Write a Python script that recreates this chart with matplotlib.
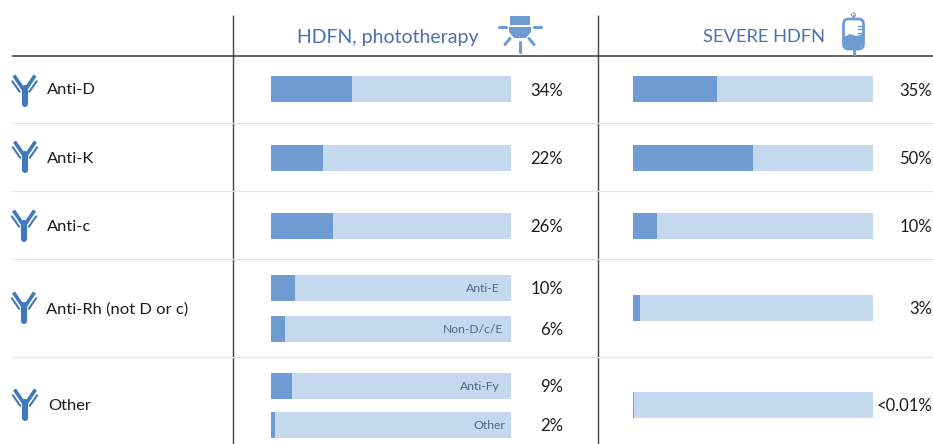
#!/usr/bin/env python3
import matplotlib
matplotlib.use('Agg')
import matplotlib.pyplot as plt
from matplotlib.patches import Polygon, Rectangle, FancyBboxPatch, Wedge

plt.rcParams['font.family'] = ['Lato', 'DejaVu Sans']

W, H = 933, 444

# data
row_labels = ['Anti-D', 'Anti-K', 'Anti-c', 'Anti-Rh (not D or c)', 'Other']
photo_values = [34, 22, 26, 10, 6, 9, 2]
photo_texts = ['34%', '22%', '26%', '10%', '6%', '9%', '2%']
photo_inner = ['', '', '', 'Anti-E', 'Non-D/c/E', 'Anti-Fy', 'Other']
severe_values = [35, 50, 10, 3, 0.5]
severe_texts = ['35%', '50%', '10%', '3%', '<0.01%']

# layout, in pixels of the picture
photo_y = [89.5, 157.5, 225.5, 288, 328.5, 386, 425]
severe_y = [89.5, 157.5, 225.5, 308, 405]
row_y = [90.5, 158.5, 226.5, 310, 406]
row_x = [47, 47, 47, 46, 48]
inner_right = [0, 0, 0, 500, 503, 500, 505]
icon_x = [24.5, 25, 24, 24, 25]
icon_y = [91, 157, 226, 308, 405]
sep_y = [123, 191, 259, 357]

DARK = '#6f9bd3'
LIGHT = '#c5d9ee'
TITLE = '#4a70b0'
ICON = '#3f78bd'
INNER = '#4f6585'
TEXT = '#1c1c1c'

fig = plt.figure(figsize=(W / 100, H / 100), dpi=100)
bg = fig.add_axes([0, 0, 1, 1])
bg.set_xlim(0, W)
bg.set_ylim(H, 0)
bg.axis('off')

bg.plot([12, W], [56, 56], color='#4a4a4a', lw=1.2, solid_capstyle='butt')
for x in [233, 598]:
    bg.plot([x, x], [15, H], color='#444444', lw=1.0, solid_capstyle='butt')
for y in sep_y:
    bg.plot([12, W], [y, y], color='#e8e4e5', lw=0.9, solid_capstyle='butt')


def bar_axes(x0, x1):
    a = fig.add_axes([x0 / W, 0, (x1 - x0) / W, 1])
    a.set_xlim(0, 100)
    a.set_ylim(H, 0)
    a.axis('off')
    a.patch.set_alpha(0)
    return a


ax1 = bar_axes(270.5, 510.5)
ax1.barh(photo_y, [100] * len(photo_y), height=26, color=LIGHT)
ax1.barh(photo_y, photo_values, height=26, color=DARK)
for y, t, x in zip(photo_y, photo_inner, inner_right):
    if t:
        ax1.text(x, y + 0.5, t, ha='right', va='center', fontsize=8.7, color=INNER,
                 transform=bg.transData)

ax2 = bar_axes(632.5, 872.5)
ax2.barh(severe_y, [100] * len(severe_y), height=26, color=LIGHT)
ax2.barh(severe_y, severe_values, height=26, color=DARK)

for y, t in zip(photo_y, photo_texts):
    bg.text(563, y + 1, t, ha='right', va='center', fontsize=12.1, color=TEXT)
for y, t in zip(severe_y, severe_texts):
    bg.text(932, y + 1, t, ha='right', va='center', fontsize=12.0, color=TEXT)
for x, y, t in zip(row_x, row_y, row_labels):
    bg.text(x, y, t, ha='left', va='center', fontsize=11.85, color=TEXT)

bg.text(388, 37.5, 'HDFN, phototherapy', ha='center', va='center', fontsize=14.0, color=TITLE)
bg.text(764, 37.5, 'SEVERE HDFN', ha='center', va='center', fontsize=13.2, color=TITLE)


def antibody(cx, cy):
    # Y shaped icon, stem plus two pairs of arms
    bg.plot([cx, cx], [cy + 13, cy - 3], color=ICON, lw=4.4, solid_capstyle='round')
    for s in (-1, 1):
        bg.plot([cx + s * 2, cx + s * 9.5], [cy - 3, cy - 14], color=ICON, lw=2.6)
        bg.plot([cx + s * 5, cx + s * 12], [cy + 0.5, cy - 9.5], color=ICON, lw=1.5)


for x, y in zip(icon_x, icon_y):
    antibody(x, y)

# lamp icon
lamp = '#6f9bd3'
bg.add_patch(Rectangle((510, 16), 20, 9, color=lamp, lw=0))
bg.add_patch(Polygon([(509, 27), (531, 27), (531, 32), (526, 38), (514, 38), (509, 32)],
                     closed=True, color=lamp, lw=0))
for x0, y0, x1, y1 in [(499, 27.5, 506, 27.5), (534, 27.5, 541, 27.5), (519.5, 42, 519.5, 52),
                       (510, 38.5, 505, 44.5), (529, 38.5, 534, 44.5)]:
    bg.plot([x0, x1], [y0, y1], color=lamp, lw=2.2, solid_capstyle='round')

# blood bag icon
bg.add_patch(FancyBboxPatch((843.5, 19), 20, 30, boxstyle='round,pad=0,rounding_size=5',
                            fc='white', ec=lamp, lw=2))
bg.add_patch(Polygon([(844, 37), (850, 34), (856, 36), (863, 34), (863, 44), (859, 49), (848, 49), (844, 44)],
                     closed=True, color=lamp, lw=0))
bg.plot([853.5, 853.5], [49, 54], color=lamp, lw=2)
bg.plot([853.5, 853.5], [16, 19], color=lamp, lw=1.4)
bg.add_patch(Wedge((853.5, 15), 2.5, 0, 360, width=1, color=lamp, lw=0))
for y in [26, 29.5, 33]:
    bg.plot([858, 863], [y, y], color=lamp, lw=1)

fig.savefig('out.png', dpi=100)
